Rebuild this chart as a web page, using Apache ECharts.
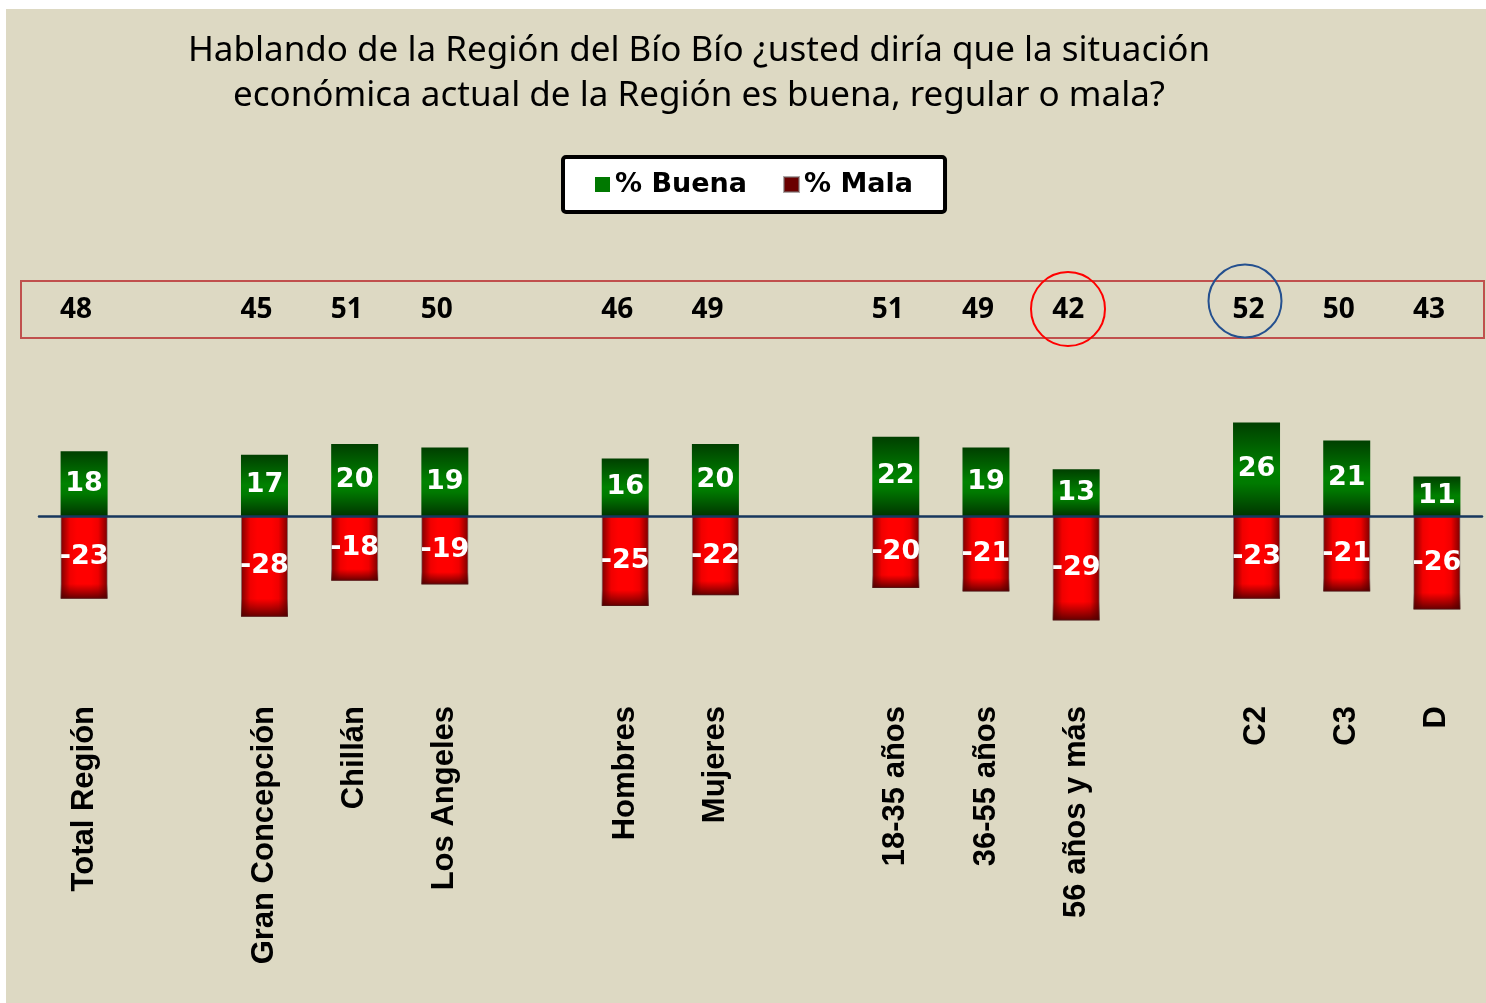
<!DOCTYPE html>
<html lang="es">
<head>
    <meta charset="UTF-8">
    <title>Situación económica Región del Bío Bío</title>
    <style>
        html, body { margin: 0; padding: 0; background: #fff; }
    </style>
</head>
<body>
    <div id="chart" style="width:1486px; height:1003px"></div>

    <script src="https://cdn.jsdelivr.net/npm/echarts@6/dist/echarts.min.js"></script>
    <script>
        // categorías y grupos (un espacio en blanco entre grupos)
        const categorias = ['Total Región', 'Gran Concepción', 'Chillán', 'Los Angeles', 'Hombres', 'Mujeres',
            '18-35 años', '36-55 años', '56 años y más', 'C2', 'C3', 'D'];
        const grupos = [1, 3, 2, 3, 3];

        const buena = [18, 17, 20, 19, 16, 20, 22, 19, 13, 26, 21, 11];
        const mala = [-23, -28, -18, -19, -25, -22, -20, -21, -29, -23, -21, -26];
        const regular = [48, 45, 51, 50, 46, 49, 51, 49, 42, 52, 50, 43];

        // arma los ejes con un hueco entre grupos
        function conHuecos(arr, vacio) {
            const out = [];
            let i = 0;
            grupos.forEach((n, g) => {
                if (g > 0) out.push(vacio);
                for (let k = 0; k < n; k++) out.push(arr[i++]);
            });
            return out;
        }

        const chart = echarts.init(document.querySelector('#chart'));

        const verde = {
            type: 'linear', x: 0, y: 0, x2: 0, y2: 1,
            colorStops: [
                { offset: 0, color: '#003f00' },
                { offset: 0.5, color: '#008200' },
                { offset: 0.65, color: '#007a00' },
                { offset: 1, color: '#003500' }
            ]
        };
        // rojo: bordes laterales oscuros, centro brillante
        const rojo = {
            type: 'linear', x: 0, y: 0, x2: 1, y2: 0,
            colorStops: [
                { offset: 0, color: '#7a0000' },
                { offset: 0.2, color: '#f00000' },
                { offset: 0.35, color: '#ff0000' },
                { offset: 0.65, color: '#ff0000' },
                { offset: 0.8, color: '#f00000' },
                { offset: 1, color: '#7a0000' }
            ]
        };
        // sombra inferior encima de las barras rojas
        const sombra = {
            type: 'linear', x: 0, y: 0, x2: 0, y2: 1,
            colorStops: [
                { offset: 0, color: 'rgba(90,0,0,0)' },
                { offset: 0.82, color: 'rgba(90,0,0,0)' },
                { offset: 1, color: 'rgba(70,0,0,0.85)' }
            ]
        };

        const etiqueta = {
            show: true,
            position: 'inside',
            color: '#fff',
            fontFamily: 'DejaVu Sans',
            fontWeight: 'bold',
            fontSize: 27
        };

        chart.setOption({
            backgroundColor: '#ddd9c3',
            animation: false,
            title: {
                text: 'Hablando de la Región del Bío Bío ¿usted diría que la situación\neconómica actual de la Región es buena, regular o mala?',
                left: 694,
                top: 24,
                textAlign: 'center',
                textStyle: {
                    fontFamily: 'Noto Sans',
                    fontWeight: 'normal',
                    fontSize: 35,
                    lineHeight: 45,
                    color: '#000'
                }
            },
            legend: {
                left: 563,
                top: 157,
                padding: [14, 32],
                backgroundColor: '#fff',
                borderColor: '#000',
                borderWidth: 4,
                borderRadius: 3,
                itemWidth: 15,
                itemHeight: 15,
                itemGap: 36,
                icon: 'rect',
                textStyle: {
                    fontFamily: 'DejaVu Sans',
                    fontWeight: 'bold',
                    fontSize: 27,
                    color: '#000'
                },
                data: [
                    { name: '% Buena', itemStyle: { color: '#007800' } },
                    { name: '% Mala', itemStyle: { color: '#6a0000' } }
                ]
            },
            grid: {
                left: 39,
                right: 4,
                top: 372,
                bottom: 343,
                outerBoundsMode: 'none',
                containLabel: false
            },
            xAxis: [{
                type: 'category',
                data: conHuecos(categorias, ''),
                z: 10,
                axisLine: { onZero: true, lineStyle: { color: '#17375e', width: 2.5 } },
                axisTick: { show: false },
                axisLabel: {
                    interval: 0,
                    rotate: 90,
                    margin: 46,
                    fontFamily: 'Liberation Sans',
                    fontWeight: 'bold',
                    fontSize: 31,
                    color: '#000'
                }
            }, {
                type: 'category',
                position: 'top',
                data: conHuecos(regular, ''),
                axisLine: { show: false, onZero: false },
                axisTick: { show: false },
                axisLabel: {
                    interval: 0,
                    margin: 48,
                    padding: [0, 16, 0, 0],
                    fontFamily: 'Open Sans',
                    fontWeight: 'bold',
                    fontSize: 28,
                    color: '#000'
                }
            }],
            yAxis: {
                type: 'value',
                min: -40,
                max: 40,
                show: false,
                splitLine: { show: false }
            },
            series: [{
                name: '% Buena',
                type: 'bar',
                barWidth: 47,
                barGap: '-100%',
                data: conHuecos(buena, '-'),
                itemStyle: { color: verde },
                label: etiqueta
            }, {
                name: '% Mala',
                type: 'bar',
                barWidth: 47,
                barGap: '-100%',
                data: conHuecos(mala, '-'),
                itemStyle: { color: rojo, borderColor: 'rgba(120,110,110,0.6)', borderWidth: 1 },
                label: { show: false }
            }, {
                name: 'sombra',
                type: 'bar',
                barWidth: 47,
                barGap: '-100%',
                silent: true,
                data: conHuecos(mala, '-'),
                itemStyle: { color: sombra },
                label: etiqueta
            }],
            graphic: [
                // margen blanco arriba e izquierda
                { type: 'rect', z: -1, shape: { x: 0, y: 0, width: 1486, height: 9 }, style: { fill: '#fff' } },
                { type: 'rect', z: -1, shape: { x: 0, y: 0, width: 6, height: 1003 }, style: { fill: '#fff' } },
                // recuadro rojo de la fila superior
                { type: 'rect', shape: { x: 21, y: 281, width: 1463, height: 57 }, style: { fill: 'none', stroke: '#c0504d', lineWidth: 2 } },
                // círculos de énfasis
                { type: 'circle', shape: { cx: 1068, cy: 309, r: 37 }, style: { fill: 'none', stroke: '#ff0000', lineWidth: 2 } },
                { type: 'circle', shape: { cx: 1245, cy: 301, r: 36.5 }, style: { fill: 'none', stroke: '#24508f', lineWidth: 2 } }
            ]
        });
    </script>
</body>
</html>
